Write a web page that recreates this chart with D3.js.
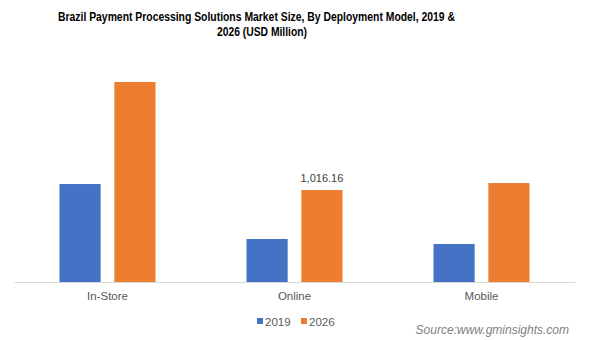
<!doctype html>
<html>
  <head>
    <meta charset="utf-8">
    <title>Brazil Payment Processing Solutions Market Size</title>
    <script src="https://cdnjs.cloudflare.com/ajax/libs/d3/7.8.5/d3.min.js"></script>
    <style>
      body { margin: 0; background: #fff; }
    </style>
  </head>
  <body>
    <div id="chart"></div>
    <script>
      // valores em USD milhões
      const categories = ['In-Store', 'Online', 'Mobile'];
      const years = ['2019', '2026'];
      const values2019 = [1082, 475, 420];
      const values2026 = [2209, 1016.16, 1093];
      const colors = ['#4472c4', '#ed7d31'];

      const width = 589, height = 340;
      const svg = d3.select('#chart').append('svg')
        .attr('width', width)
        .attr('height', height);

      // titulo em duas linhas (fonte estreita simulada com textLength)
      const title = svg.append('text')
        .attr('text-anchor', 'middle')
        .style('font-family', '"Liberation Sans Narrow", "Arial Narrow", "Liberation Sans", Arial, sans-serif')
        .style('font-weight', 'bold')
        .style('font-size', '12.5px')
        .style('fill', '#000');
      title.append('tspan').attr('x', 256.5).attr('y', 21)
        .attr('textLength', 397).attr('lengthAdjust', 'spacingAndGlyphs')
        .text('Brazil Payment Processing Solutions Market Size, By Deployment Model, 2019 &');
      title.append('tspan').attr('x', 262).attr('y', 36)
        .attr('textLength', 90).attr('lengthAdjust', 'spacingAndGlyphs')
        .text('2026 (USD Million)');

      const x0 = d3.scaleBand().domain(categories).range([14, 575]);
      const x1 = d3.scaleBand().domain(years).range([0, 96]).paddingInner(0.25);
      const y = d3.scaleLinear().domain([0, 1016.16]).range([282, 190]);

      const rows = categories.map((c, i) => ({ cat: c, vals: [values2019[i], values2026[i]] }));

      const groups = svg.selectAll('g.grp').data(rows).join('g')
        .attr('class', 'grp')
        .attr('transform', d => `translate(${x0(d.cat) + (x0.bandwidth() - 96) / 2},0)`);

      groups.selectAll('rect')
        .data(d => d.vals.map((v, j) => ({ year: years[j], v, j })))
        .join('rect')
        .attr('x', d => x1(d.year))
        .attr('width', x1.bandwidth())
        .attr('y', d => y(d.v))
        .attr('height', d => y(0) - y(d.v))
        .style('fill', d => colors[d.j]);

      // eixo x
      const xAxis = svg.append('g')
        .attr('transform', `translate(0,${y(0)})`)
        .call(d3.axisBottom(x0).tickSize(0).tickPadding(10));
      xAxis.select('.domain').attr('stroke', '#d9d9d9');
      xAxis.selectAll('text')
        .style('font-family', '"Liberation Sans", Arial, sans-serif')
        .style('font-size', '11.5px')
        .style('fill', '#595959');

      // rotulo do Online 2026
      svg.append('text')
        .attr('x', x0('Online') + (x0.bandwidth() - 96) / 2 + x1('2026') + x1.bandwidth() / 2)
        .attr('y', y(values2026[1]) - 8)
        .attr('text-anchor', 'middle')
        .style('font-family', '"Liberation Sans", Arial, sans-serif')
        .style('font-size', '11px')
        .style('fill', '#404040')
        .text('1,016.16');

      // legenda
      const legend = svg.append('g').attr('transform', 'translate(257,326)');
      const items = legend.selectAll('g').data(years).join('g')
        .attr('transform', (d, i) => `translate(${i * 44},0)`);
      items.append('rect')
        .attr('x', 0).attr('y', -8)
        .attr('width', 6).attr('height', 6)
        .style('fill', (d, i) => colors[i]);
      items.append('text')
        .attr('x', 8).attr('y', 0)
        .style('font-family', '"Liberation Sans", Arial, sans-serif')
        .style('font-size', '11.5px')
        .style('fill', '#595959')
        .text(d => d);

      svg.append('text')
        .attr('x', 569).attr('y', 334)
        .attr('text-anchor', 'end')
        .style('font-family', '"Liberation Sans", Arial, sans-serif')
        .style('font-style', 'italic')
        .style('font-size', '12px')
        .style('fill', '#7f7f7f')
        .text('Source:www.gminsights.com');
    </script>
  </body>
</html>
